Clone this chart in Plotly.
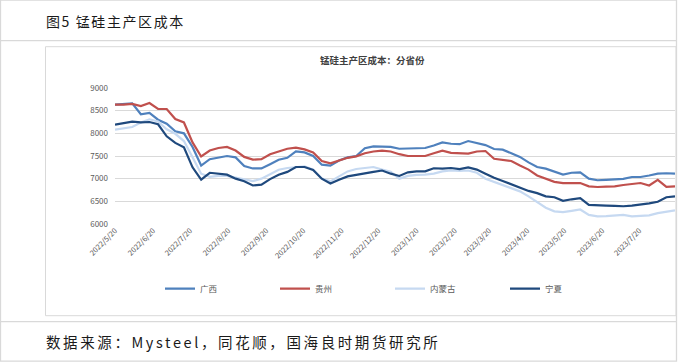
import pandas as pd
import plotly.graph_objects as go

# weekly observation dates (Fridays) from 2022-05-20 to 2023-08-18
dates = pd.date_range("2022-05-20", "2023-08-18", freq="7D")

guangxi = [8632, 8640, 8660, 8420, 8450, 8300, 8213, 8044, 8000, 7700, 7290, 7430, 7470, 7500, 7470, 7280, 7225,
           7225, 7320, 7419, 7460, 7600, 7580, 7500, 7309, 7287, 7400, 7470, 7500, 7670, 7713, 7713, 7700, 7660,
           7660, 7676, 7676, 7730, 7800, 7770, 7760, 7830, 7780, 7740, 7654, 7640, 7560, 7480, 7360, 7257, 7220,
           7150, 7090, 7130, 7140, 7000, 6965, 6975, 6990, 6995, 7037, 7037, 7070, 7110, 7120, 7110]

guizhou = [8632, 8632, 8650, 8600, 8669, 8540, 8537, 8316, 8240, 7800, 7490, 7620, 7676, 7700, 7620, 7480, 7419,
           7430, 7540, 7603, 7660, 7685, 7645, 7580, 7390, 7340, 7400, 7460, 7493, 7560, 7600, 7620, 7600, 7540,
           7500, 7495, 7500, 7560, 7618, 7570, 7555, 7551, 7600, 7610, 7440, 7415, 7390, 7290, 7200, 7070, 6995,
           6930, 6900, 6904, 6904, 6830, 6816, 6825, 6831, 6860, 6890, 6904, 6850, 6975, 6820, 6831]

neimenggu = [8081, 8110, 8140, 8240, 8310, 8260, 8090, 7990, 7830, 7470, 7110, 7040, 7060, 7060, 7020, 6980, 6945,
             7000, 7100, 7198, 7235, 7257, 7270, 7200, 7000, 6941, 7051, 7160, 7213, 7235, 7257, 7200, 7150, 7000,
             7060, 7085, 7088, 7110, 7160, 7180, 7170, 7180, 7130, 7000, 6930, 6870, 6800, 6720, 6610, 6490, 6360,
             6280, 6260, 6290, 6320, 6200, 6170, 6175, 6184, 6200, 6170, 6180, 6190, 6240, 6270, 6300]

ningxia = [8191, 8228, 8260, 8240, 8250, 8200, 7934, 7790, 7690, 7250, 6980, 7130, 7110, 7088, 7000, 6945, 6850,
           6870, 6990, 7088, 7150, 7257, 7257, 7190, 7000, 6895, 6978, 7050, 7085, 7110, 7150, 7180, 7110, 7060,
           7140, 7160, 7162, 7230, 7220, 7235, 7210, 7250, 7200, 7110, 7020, 6950, 6880, 6810, 6730, 6680, 6610,
           6590, 6510, 6545, 6570, 6420, 6404, 6404, 6400, 6392, 6404, 6426, 6455, 6490, 6590, 6610]

series_names = ["广西", "贵州", "内蒙古", "宁夏"]
series_colors = ["#4F81BD", "#C0504D", "#C6D9F1", "#1F497D"]

tick_dates = ["2022-05-20", "2022-06-20", "2022-07-20", "2022-08-20", "2022-09-20", "2022-10-20",
              "2022-11-20", "2022-12-20", "2023-01-20", "2023-02-20", "2023-03-20", "2023-04-20",
              "2023-05-20", "2023-06-20", "2023-07-20"]
tick_labels = ["2022/5/20", "2022/6/20", "2022/7/20", "2022/8/20", "2022/9/20", "2022/10/20",
               "2022/11/20", "2022/12/20", "2023/1/20", "2023/2/20", "2023/3/20", "2023/4/20",
               "2023/5/20", "2023/6/20", "2023/7/20"]

y_ticks = [6000, 6500, 7000, 7500, 8000, 8500, 9000]

fig_title = "图5 锰硅主产区成本"
chart_title = "锰硅主产区成本：分省份"
source_text = "数据来源：Mysteel，同花顺，国海良时期货研究所"

W, H = 678, 363
L, R, T, B = 115, 675, 88.3, 224.3
FONT = "Noto Sans CJK SC, Microsoft YaHei, sans-serif"

fig = go.Figure()
for name, vals, col in zip(series_names, [guangxi, guizhou, neimenggu, ningxia], series_colors):
    fig.add_trace(go.Scatter(x=dates, y=vals, mode="lines", name=name,
                             line=dict(color=col, width=2.2)))

def px(x):
    return (x - L) / (R - L)

def py(y):
    return (B - y) / (B - T)

shapes = [
    dict(type="rect", xref="paper", yref="paper", x0=px(0.5), x1=px(676.5), y0=py(0.5), y1=py(361.5),
         line=dict(color="#d9d9d9", width=1.3), layer="below"),
    dict(type="line", xref="paper", yref="paper", x0=px(0.5), x1=px(676.5), y0=py(41), y1=py(41),
         line=dict(color="#d9d9d9", width=1.3), layer="below"),
    dict(type="line", xref="paper", yref="paper", x0=px(0.5), x1=px(676.5), y0=py(322), y1=py(322),
         line=dict(color="#d9d9d9", width=1.3), layer="below"),
    dict(type="rect", xref="paper", yref="paper", x0=px(45.5), x1=px(676), y0=py(47), y1=py(316),
         line=dict(color="#d9d9d9", width=1), layer="below"),
]

annotations = [
    dict(text='<span style="letter-spacing:1.6px">' + fig_title + '</span>', xref="paper", yref="paper",
         x=px(44), y=py(21), xanchor="left", yanchor="middle",
         showarrow=False, font=dict(family=FONT, size=14, color="#1a1a1a")),
    dict(text='<span style="letter-spacing:2.6px">' + source_text + '</span>', xref="paper", yref="paper",
         x=px(44), y=py(342), xanchor="left", yanchor="middle",
         showarrow=False, font=dict(family=FONT, size=14.5, color="#1a1a1a")),
    dict(text="<b>" + chart_title + "</b>", xref="paper", yref="paper", x=px(372), y=py(60), xanchor="center",
         yanchor="middle", showarrow=False, font=dict(family=FONT, size=9.5, color="#404040")),
]

fig.update_layout(
    width=W, height=H,
    margin=dict(l=L, r=W - R, t=T, b=H - B, autoexpand=False),
    paper_bgcolor="white", plot_bgcolor="white",
    showlegend=True,
    legend=dict(orientation="h", x=px(160), y=py(289), xanchor="left", yanchor="middle",
                entrywidth=70, entrywidthmode="pixels", itemwidth=30,
                font=dict(family=FONT, size=8.5, color="#595959"), bgcolor="rgba(0,0,0,0)"),
    shapes=shapes,
    annotations=annotations,
    font=dict(family=FONT),
)

fig.update_xaxes(
    type="date", range=["2022-05-20", "2023-08-18"],
    tickmode="array", tickvals=tick_dates, ticktext=tick_labels, tickangle=-45,
    tickfont=dict(family=FONT, size=7.5, color="#595959"),
    showgrid=False, showline=False, zeroline=False, ticks="", ticklen=0,
)
fig.update_yaxes(
    range=[6000, 9000], tickmode="array", tickvals=y_ticks, ticktext=[str(v) for v in y_ticks],
    tickfont=dict(family=FONT, size=8, color="#595959"),
    showgrid=True, gridcolor="#d9d9d9", gridwidth=1, zeroline=False, showline=False, ticks="",
    ticklabelstandoff=6,
)

fig.write_html("out.html", config={"displayModeBar": False},
               post_script="document.body.style.margin='0';document.body.style.overflow='hidden';")
